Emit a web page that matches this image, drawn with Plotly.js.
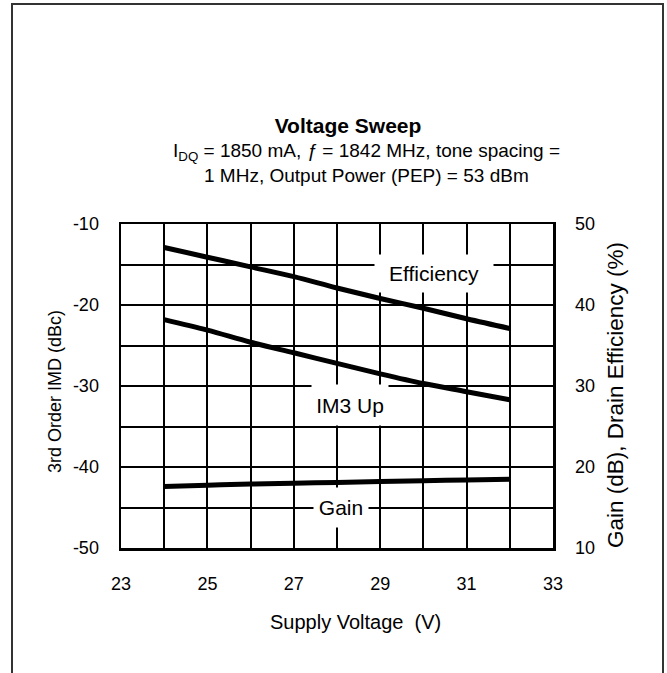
<!DOCTYPE html>
<html>
<head>
<meta charset="utf-8">
<script src="https://cdn.plot.ly/plotly-3.0.1.min.js"></script>
<style>
  html, body { margin: 0; padding: 0; background: #fff; }
  #wrap { position: relative; width: 667px; height: 673px; }
  #chart { width: 667px; height: 673px; }
  #frame { position: absolute; left: 11px; top: 3px; width: 653px; height: 680px;
           border: 2px solid #333; box-sizing: border-box; pointer-events: none; }
</style>
</head>
<body>
<div id="wrap">
  <div id="chart"></div>
  <div id="frame"></div>
</div>
<script>
// Supply voltage (V)
const voltage = [24, 25, 26, 27, 28, 29, 30, 31, 32];
// 3rd order IMD, upper (dBc) - left axis
const im3Up = [-21.8, -23.1, -24.6, -25.9, -27.2, -28.5, -29.7, -30.7, -31.7];
// Drain efficiency (%) - right axis
const efficiency = [47.1, 45.9, 44.7, 43.5, 42.1, 40.8, 39.6, 38.3, 37.1];
// Gain (dB) - right axis
const gain = [17.6, 17.75, 17.9, 18.0, 18.1, 18.2, 18.3, 18.4, 18.5];

const xTicks = [23, 25, 27, 29, 31, 33];
const yLeftTicks = [-50, -40, -30, -20, -10];
const yRightTicks = [10, 20, 30, 40, 50];

const seriesNames = ['IM3 Up', 'Efficiency', 'Gain'];
const xTitle = 'Supply Voltage  (V)';
const yLeftTitle = '3rd Order IMD (dBc)';
const yRightTitle = 'Gain (dB), Drain Efficiency (%)';

const FONT = 'Liberation Sans, Arial, sans-serif';
const lineStyle = { color: '#000', width: 5, shape: 'spline' };

const traces = [
  { x: voltage, y: im3Up, name: seriesNames[0], mode: 'lines', line: lineStyle, yaxis: 'y' },
  { x: voltage, y: efficiency, name: seriesNames[1], mode: 'lines', line: lineStyle, yaxis: 'y2' },
  { x: voltage, y: gain, name: seriesNames[2], mode: 'lines', line: lineStyle, yaxis: 'y2' }
];

const gridCommon = {
  showgrid: true, gridcolor: '#000', gridwidth: 2,
  showline: true, linecolor: '#000', linewidth: 2.5, mirror: true,
  ticks: '', zeroline: false,
  tickfont: { family: FONT, size: 18, color: '#000' }
};

// plot area in px: left 121, right 553, top 224, bottom 548
const PX = (px) => (px - 121) / 432;
const PY = (py) => (548 - py) / 324;

const layout = {
  width: 667, height: 673,
  margin: { l: 121, r: 114, t: 224, b: 125 },
  paper_bgcolor: '#fff', plot_bgcolor: '#fff',
  showlegend: false,
  font: { family: FONT, color: '#000' },
  title: {
    text: '<b>Voltage Sweep</b>',
    font: { family: FONT, size: 21, color: '#000' },
    x: PX(348), xanchor: 'center', xref: 'paper',
    y: 1 - 126 / 673, yanchor: 'middle', yref: 'container'
  },
  xaxis: Object.assign({}, gridCommon, {
    range: [23, 33], tickvals: xTicks, ticktext: xTicks.map(String),
    minor: { dtick: 1, showgrid: true, gridcolor: '#000', gridwidth: 2 },
    ticklabelstandoff: 18
  }),
  yaxis: Object.assign({}, gridCommon, {
    range: [-50, -10], tickvals: yLeftTicks, ticktext: yLeftTicks.map(String),
    minor: { dtick: 5, tick0: -50, showgrid: true, gridcolor: '#000', gridwidth: 2 },
    ticklabelstandoff: 16
  }),
  yaxis2: {
    overlaying: 'y', side: 'right', range: [10, 50],
    tickvals: yRightTicks, ticktext: yRightTicks.map(String),
    showgrid: false, zeroline: false, ticks: '', showline: false,
    ticklabelstandoff: 21,
    tickfont: { family: FONT, size: 18, color: '#000' }
  },
  annotations: [
    { xref: 'paper', yref: 'paper', x: PX(366), y: PY(152), yanchor: 'middle',
      text: 'I<sub>DQ</sub> = 1850 mA, <i>ƒ</i> = 1842 MHz, tone spacing =', showarrow: false,
      font: { family: FONT, size: 19, color: '#000' } },
    { xref: 'paper', yref: 'paper', x: PX(366), y: PY(175), yanchor: 'middle',
      text: '1 MHz, Output Power (PEP) = 53 dBm', showarrow: false,
      font: { family: FONT, size: 19, color: '#000' } },
    // axis titles
    { xref: 'paper', yref: 'paper', x: PX(355), y: PY(622), xanchor: 'center', yanchor: 'middle',
      text: xTitle, showarrow: false, font: { family: FONT, size: 20, color: '#000' } },
    { xref: 'paper', yref: 'paper', x: PX(55), y: PY(392), xanchor: 'center', yanchor: 'middle',
      text: yLeftTitle, textangle: -90, showarrow: false, font: { family: FONT, size: 18, color: '#000' } },
    { xref: 'paper', yref: 'paper', x: PX(615), y: PY(395), xanchor: 'center', yanchor: 'middle',
      text: yRightTitle, textangle: -90, showarrow: false, font: { family: FONT, size: 22.5, color: '#000' } },
    // series labels
    { x: 30.25, y: -16.05, xref: 'x', yref: 'y', text: seriesNames[1], showarrow: false,
      bgcolor: '#fff', width: 118, height: 37, borderpad: 0,
      font: { family: FONT, size: 21, color: '#000' } },
    { x: 28.29, y: -32.35, xref: 'x', yref: 'y', text: seriesNames[0], showarrow: false,
      bgcolor: '#fff', width: 76, height: 40, borderpad: 0,
      font: { family: FONT, size: 21, color: '#000' } },
    { x: 28.09, y: -45.0, xref: 'x', yref: 'y', text: seriesNames[2], showarrow: false,
      bgcolor: '#fff', width: 54, height: 39, borderpad: 0,
      font: { family: FONT, size: 21, color: '#000' } }
  ]
};

Plotly.newPlot('chart', traces, layout, { displayModeBar: false, staticPlot: true });
</script>
</body>
</html>
